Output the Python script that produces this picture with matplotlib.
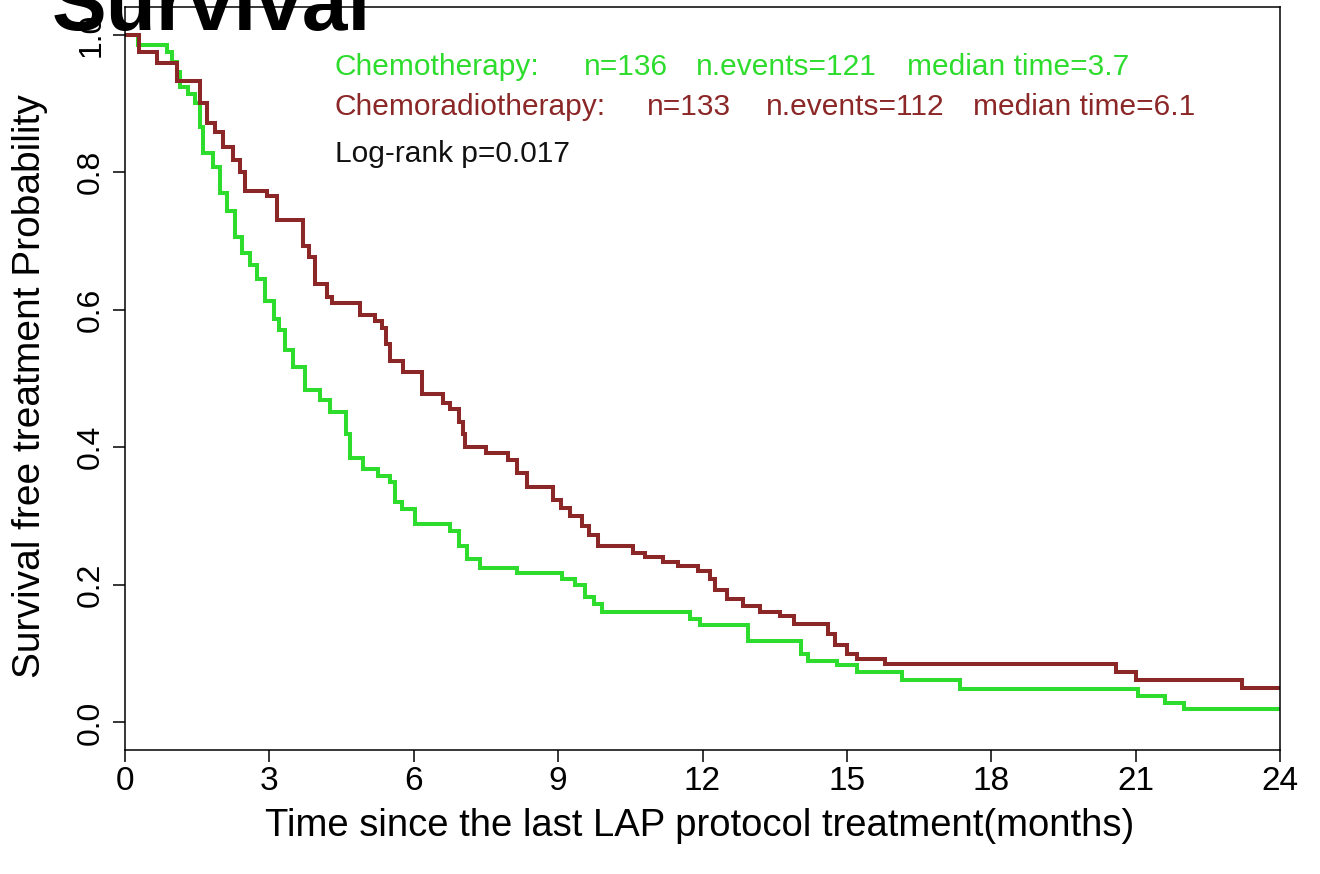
import numpy as np
import matplotlib
matplotlib.use("Agg")
import matplotlib.pyplot as plt

plt.rcParams['font.family'] = ['Liberation Sans', 'DejaVu Sans']

# --- datos (Kaplan-Meier, escalones) ---
t_max = 24
chemo_t = [0, 0.27, 0.87, 0.98, 1.08, 1.14, 1.31, 1.46, 1.56, 1.62, 1.83, 1.97,
           2.12, 2.29, 2.43, 2.6, 2.74, 2.9, 3.1, 3.2, 3.33, 3.5, 3.74, 4.05,
           4.26, 4.6, 4.68, 4.95, 5.26, 5.5, 5.6, 5.75, 6.03, 6.75, 6.95, 7.1,
           7.38, 8.15, 9.08, 9.35, 9.55, 9.75, 9.92, 11.74, 11.95, 12.95, 14.05,
           14.2, 14.8, 15.2, 16.15, 17.35, 21.05, 21.6, 22.0]
chemo_s = [1.0, 0.985, 0.974, 0.96, 0.945, 0.924, 0.913, 0.901, 0.866, 0.828,
           0.808, 0.77, 0.743, 0.706, 0.683, 0.665, 0.644, 0.612, 0.586, 0.571,
           0.542, 0.516, 0.484, 0.469, 0.452, 0.42, 0.385, 0.368, 0.358, 0.349,
           0.321, 0.31, 0.289, 0.278, 0.256, 0.237, 0.224, 0.218, 0.209, 0.2,
           0.183, 0.172, 0.161, 0.15, 0.141, 0.118, 0.1, 0.089, 0.083, 0.074,
           0.062, 0.049, 0.039, 0.029, 0.02]

crt_t = [0, 0.3, 0.66, 1.08, 1.56, 1.7, 1.87, 2.04, 2.25, 2.39, 2.5, 2.95, 3.16,
         3.7, 3.82, 3.95, 4.2, 4.3, 4.88, 5.2, 5.35, 5.42, 5.5, 5.78, 6.17, 6.6,
         6.75, 6.95, 7.02, 7.07, 7.5, 7.95, 8.15, 8.35, 8.9, 9.05, 9.25, 9.5,
         9.65, 9.83, 10.55, 10.8, 11.18, 11.5, 11.9, 12.16, 12.25, 12.5, 12.85,
         13.2, 13.6, 13.9, 14.6, 14.75, 15.0, 15.2, 15.8, 20.6, 21.0, 23.2]
crt_s = [1.0, 0.974, 0.959, 0.932, 0.901, 0.872, 0.858, 0.836, 0.818, 0.80,
         0.772, 0.765, 0.731, 0.692, 0.676, 0.637, 0.618, 0.61, 0.593, 0.584,
         0.574, 0.55, 0.525, 0.51, 0.477, 0.465, 0.455, 0.437, 0.42, 0.401,
         0.392, 0.382, 0.363, 0.343, 0.324, 0.312, 0.30, 0.285, 0.273, 0.256,
         0.247, 0.24, 0.233, 0.227, 0.22, 0.208, 0.193, 0.179, 0.169, 0.16,
         0.155, 0.143, 0.128, 0.113, 0.10, 0.093, 0.085, 0.074, 0.062, 0.05]

grupos = ["Chemotherapy:", "Chemoradiotherapy:"]
n_grupo = [136, 133]
n_eventos = [121, 112]
mediana = [3.7, 6.1]
p_logrank = 0.017

x_ticks = [0, 3, 6, 9, 12, 15, 18, 21, 24]
y_ticks = [0.0, 0.2, 0.4, 0.6, 0.8, 1.0]

verde = '#2ddc2d'
rojo = '#8b2727'
colores = [verde, rojo]

W, H = 1320, 874
fig = plt.figure(figsize=(W / 100, H / 100), dpi=100)
ax = fig.add_axes([125 / W, (H - 750) / H, (1280 - 125) / W, (750 - 7) / H])

for tt, ss, col in [(chemo_t, chemo_s, verde), (crt_t, crt_s, rojo)]:
    ax.step(tt + [t_max], ss + [ss[-1]], where='post', color=col, lw=2.9,
            solid_joinstyle='miter')

ax.set_xlim(0, t_max)
ax.set_ylim(-0.04, 1.04)
ax.set_xticks(x_ticks)
ax.set_xticklabels([str(v) for v in x_ticks], fontsize=24)
ax.set_yticks(y_ticks)
ax.set_yticklabels([f"{v:.1f}" for v in y_ticks], fontsize=23, rotation=90,
                   va='center')
ax.tick_params(axis='both', direction='out', length=8.5, width=1.1)
ax.tick_params(axis='x', pad=3)
ax.tick_params(axis='y', pad=5)
for sp in ax.spines.values():
    sp.set_linewidth(1.1)

# textos tipo leyenda (como en R survival)
fs_leg = 21.5
col_x = [[335, 584, 696, 907], [335, 647, 766, 973]]
base_y = [75, 115]
for k in range(2):
    partes = [grupos[k], f"n={n_grupo[k]}", f"n.events={n_eventos[k]}",
              f"median time={mediana[k]}"]
    for px, txt in zip(col_x[k], partes):
        fig.text(px / W, 1 - base_y[k] / H, txt, color=colores[k],
                 fontsize=fs_leg, va='baseline', ha='left')
fig.text(335 / W, 1 - 162 / H, f"Log-rank p={p_logrank}", color='#111111',
         fontsize=fs_leg, va='baseline', ha='left')

fig.text(30 / W, 1 - 386 / H, "Survival free treatment Probability",
         rotation=90, fontsize=28, ha='center', va='center')
fig.text(700 / W, 1 - 836 / H,
         "Time since the last LAP protocol treatment(months)",
         fontsize=27.5, ha='center', va='baseline')

fig.text(52 / W, 1 - 30 / H, "Survival", fontsize=59, fontweight='bold',
         ha='left', va='baseline')

fig.savefig("out.png", dpi=100)
